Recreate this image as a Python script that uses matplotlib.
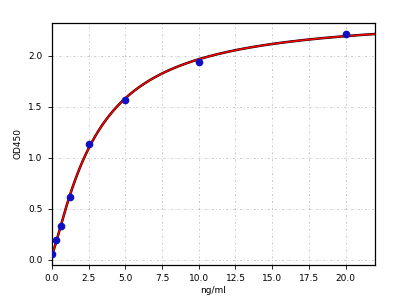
import numpy as np
import matplotlib
matplotlib.use("Agg")
import matplotlib.pyplot as plt

conc = [0.0, 0.3125, 0.625, 1.25, 2.5, 5.0, 10.0, 20.0]
od = [0.06, 0.19, 0.33, 0.62, 1.13, 1.57, 1.94, 2.21]
xticks = [0.0, 2.5, 5.0, 7.5, 10.0, 12.5, 15.0, 17.5, 20.0]
yticks = [0.0, 0.5, 1.0, 1.5, 2.0]

x = np.array(conc); y = np.array(od)
# 4PL fit via grid search on B, C with linear LS for A, D
best = None
for B in np.linspace(0.8, 2.0, 61):
    for C in np.linspace(1.0, 10.0, 181):
        f = 1.0 / (1.0 + (x / C) ** B)
        M = np.vstack([f, 1 - f]).T
        coef, *_ = np.linalg.lstsq(M, y, rcond=None)
        r = np.sum((M @ coef - y) ** 2)
        if best is None or r < best[0]:
            best = (r, B, C, coef)
_, B, C, (A, D) = best
xs = np.linspace(0, 22, 400)
fs = 1.0 / (1.0 + (xs / C) ** B)
ys = A * fs + D * (1 - fs)

fig = plt.figure(figsize=(4.05, 3.06), dpi=100)
ax = fig.add_axes([0.128, 0.134, 0.798, 0.791])
ax.grid(True, linestyle=(0, (3, 3, 1, 3)), color='#888888', linewidth=0.5, alpha=0.6)
ax.set_axisbelow(True)
ax.plot(xs, ys, color='black', lw=1.8, zorder=2)
ax.plot(xs, ys, color='red', lw=1.1, zorder=3)
ax.plot(conc, od, 'o', color='#1010c0', markersize=4.5, zorder=4)
ax.set_xlim(0, 22)
ax.set_ylim(-0.05, 2.32)
ax.set_xticks(xticks)
ax.set_yticks(yticks)
ax.tick_params(labelsize=6.5, length=3, width=0.6)
ax.set_xlabel('ng/ml', fontsize=6.5, labelpad=2)
ax.set_ylabel('OD450', fontsize=6.5, labelpad=4)
for s in ax.spines.values():
    s.set_linewidth(0.9)
fig.savefig('out.png', dpi=100)
